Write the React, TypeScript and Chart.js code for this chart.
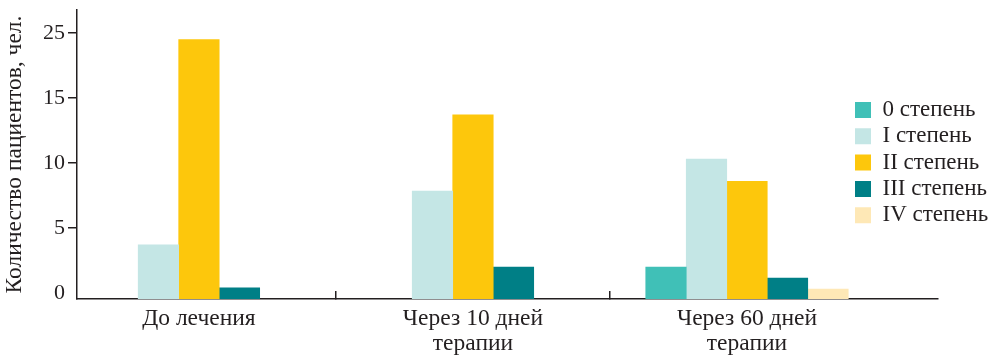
import React, { useEffect, useRef } from "react";
import { Chart, registerables } from "chart.js";

Chart.register(...registerables);

// ---- data ----
const categories: (string | string[])[] = [
  "До лечения",
  ["Через 10 дней", "терапии"],
  ["Через 60 дней", "терапии"],
];
const categoryPositions = [0, 1, 2];
const categoryDividers = [0.5, 1.5];

const seriesNames = ["0 степень", "I степень", "II степень", "III степень", "IV степень"];
const stage0: (number | null)[] = [null, null, 2.0];
const stage1: (number | null)[] = [3.7, 7.85, 10.3];
const stage2: (number | null)[] = [19.5, 13.7, 8.6];
const stage3: (number | null)[] = [0.4, 2.0, 1.15];
const stage4: (number | null)[] = [null, null, 0.3];

const yTickValues = [0, 5, 10, 15, 20];
const yTickLabels = ["0", "5", "10", "15", "25"];
const yTitle = "Количество пациентов, чел.";

// ---- styles ----
const seriesColors = ["#40C0B7", "#C4E6E5", "#FDC70C", "#007F86", "#FEE8B6"];
const TEXT = "#231f20";
const FONT = "'Liberation Serif', 'Times New Roman', serif";
const Y_MIN = -0.46;
const Y_MAX = 21.77;
const X_MIN = -0.445;
const X_MAX = 2.697;
const LEGEND_LEFT = 851.7;
const LEGEND_TOP = 95.2;

const legendPlacer = {
  id: "legendPlacer",
  afterLayout(chart: any) {
    const lg = chart.legend;
    if (!lg) return;
    const h = lg.height;
    const w = lg.width;
    lg.left = LEGEND_LEFT;
    lg.top = LEGEND_TOP;
    lg.right = LEGEND_LEFT + w;
    lg.bottom = LEGEND_TOP + h;
  },
};

export default function App() {
  const ref = useRef<HTMLCanvasElement | null>(null);

  useEffect(() => {
    if (!ref.current) return;
    const series = [stage0, stage1, stage2, stage3, stage4];
    const datasets = series.map((vals, si) => ({
      label: seriesNames[si],
      data: vals.map((v, i) => ({ x: categoryPositions[i], y: v })),
      backgroundColor: seriesColors[si],
      borderWidth: 0,
      barThickness: 40.5,
      base: Y_MIN,
    }));

    const chart = new Chart(ref.current, {
      type: "bar",
      data: { datasets: datasets as any },
      plugins: [legendPlacer],
      options: {
        responsive: false,
        animation: false,
        layout: { padding: { top: 10, right: 50, left: 0, bottom: 0 } },
        plugins: {
          legend: {
            position: "chartArea" as any,
            align: "start",
            labels: {
              boxWidth: 16,
              boxHeight: 16,
              padding: 3.3,
              color: TEXT,
              font: { family: FONT, size: 23 },
            },
          },
          tooltip: { enabled: false },
        },
        scales: {
          x: {
            type: "linear",
            min: X_MIN,
            max: X_MAX,
            offset: false,
            afterBuildTicks: (axis: any) => {
              const vals = [...categoryPositions, ...categoryDividers].sort((a, b) => a - b);
              axis.ticks = vals.map((v) => ({ value: v }));
            },
            afterFit: (s: any) => {
              s.height = 61;
              s.paddingLeft = 0;
              s.paddingRight = 0;
            },
            grid: {
              offset: false,
              drawOnChartArea: false,
              drawTicks: true,
              tickLength: -8,
              lineWidth: 1.5,
              color: (ctx: any) =>
                ctx.tick && categoryDividers.includes(ctx.tick.value) ? TEXT : "rgba(0,0,0,0)",
            },
            border: { display: true, color: TEXT, width: 1.5 },
            ticks: {
              autoSkip: false,
              maxRotation: 0,
              minRotation: 0,
              padding: 15.5,
              color: TEXT,
              font: { family: FONT, size: 23.5, lineHeight: 1.064 },
              callback: (v: any) => {
                const idx = categoryPositions.indexOf(Number(v));
                return idx >= 0 ? (categories[idx] as any) : "";
              },
            },
          },
          y: {
            type: "linear",
            min: Y_MIN,
            max: Y_MAX,
            afterBuildTicks: (axis: any) => {
              axis.ticks = yTickValues.map((v) => ({ value: v }));
            },
            afterFit: (s: any) => {
              s.width = 77;
              s.paddingTop = 0;
              s.paddingBottom = 0;
            },
            grid: {
              drawOnChartArea: false,
              drawTicks: true,
              tickLength: 9,
              lineWidth: 1.5,
              color: (ctx: any) => (ctx.tick && ctx.tick.value !== 0 ? TEXT : "rgba(0,0,0,0)"),
            },
            border: { display: true, color: TEXT, width: 1.5 },
            ticks: {
              padding: 3,
              color: TEXT,
              font: { family: FONT, size: 22 },
              callback: (v: any) => {
                const idx = yTickValues.indexOf(Number(v));
                return idx >= 0 ? yTickLabels[idx] : "";
              },
            },
            title: {
              display: true,
              text: yTitle,
              color: TEXT,
              font: { family: FONT, size: 23.5 },
              padding: { top: 1, bottom: 0 },
            },
          },
        },
      },
    });
    return () => chart.destroy();
  }, []);

  return (
    <div style={{ position: "fixed", left: 0, top: 0, width: 988, height: 360, background: "#fff" }}>
      <canvas ref={ref} width={988} height={360} style={{ display: "block" }} />
    </div>
  );
}
